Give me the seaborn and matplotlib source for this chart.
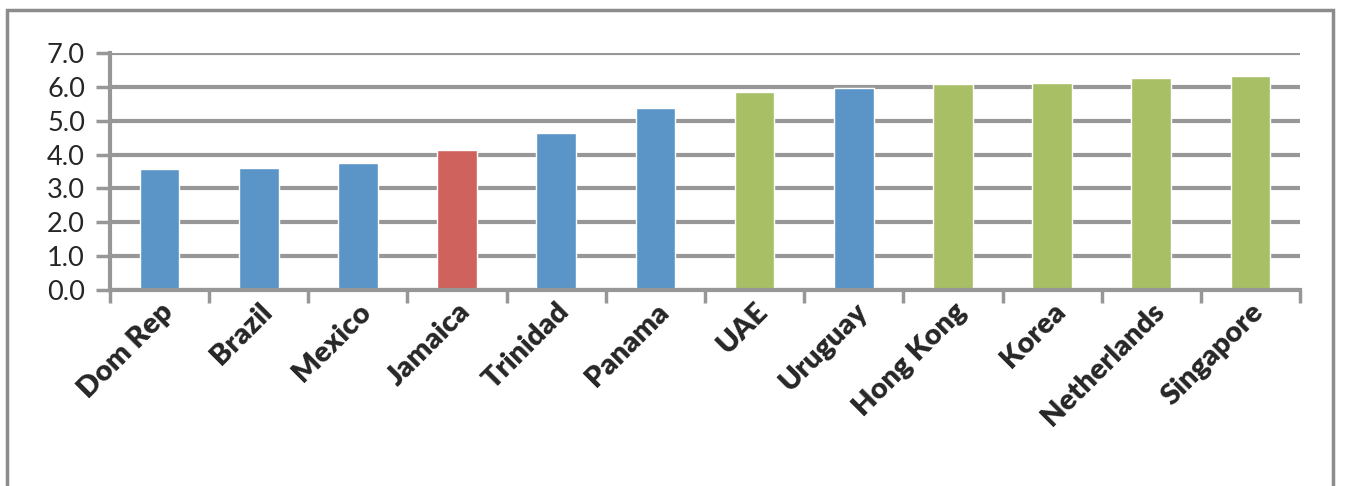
import matplotlib
matplotlib.use("Agg")
import matplotlib.pyplot as plt
from matplotlib.patches import Rectangle
from matplotlib.ticker import FixedLocator, NullFormatter
import seaborn as sns
import pandas as pd

countries = ["Dom Rep", "Brazil", "Mexico", "Jamaica", "Trinidad", "Panama",
             "UAE", "Uruguay", "Hong Kong", "Korea", "Netherlands", "Singapore"]
values = [3.57, 3.61, 3.76, 4.14, 4.63, 5.37, 5.86, 5.97, 6.08, 6.12, 6.27, 6.32]
groups = ["Region", "Region", "Region", "Jamaica", "Region", "Region",
          "Comparator", "Region", "Comparator", "Comparator", "Comparator", "Comparator"]
palette = {"Region": "#5B95C8", "Jamaica": "#CF625C", "Comparator": "#A8BF66"}
yticks = [0.0, 1.0, 2.0, 3.0, 4.0, 5.0, 6.0, 7.0]

sns.set_theme(style="white")
plt.rcParams["font.family"] = ["Lato", "DejaVu Sans"]

df = pd.DataFrame({"country": countries, "value": values, "group": groups})

fig = plt.figure(figsize=(13.45, 4.86), dpi=100)
ax = fig.add_axes([110 / 1345, 1 - 290 / 486, (1300 - 110) / 1345, (290 - 53) / 486])

sns.barplot(data=df, x="country", y="value", hue="group", palette=palette,
            dodge=False, width=0.4, legend=False, ax=ax, saturation=1)

ax.set_ylim(0, 7)
ax.set_xlim(-0.5, len(countries) - 0.5)
ax.set_yticks(yticks)
ax.set_yticklabels([f"{v:.1f}" for v in yticks], fontsize=19.5)
grid_color = "#979797"
for v in yticks:
    ax.axhline(v, color=grid_color, lw=3, zorder=0)
ax.set_axisbelow(True)

ax.set_xlabel("")
ax.set_ylabel("")
ax.set_xticks(range(len(countries)))
ax.set_xticklabels(countries, rotation=45, ha="right", rotation_mode="anchor",
                   fontsize=21, fontweight="heavy")
ax.tick_params(axis="x", which="major", length=0, pad=6)
ax.xaxis.set_minor_locator(FixedLocator([i - 0.5 for i in range(len(countries) + 1)]))
ax.xaxis.set_minor_formatter(NullFormatter())
ax.tick_params(axis="x", which="minor", length=9, width=2.5, color=grid_color,
               direction="out", bottom=True)
ax.tick_params(axis="y", which="major", length=10, width=2.5, color=grid_color,
               direction="out", left=True, pad=8)

for side in ["top", "right"]:
    ax.spines[side].set_visible(False)
for side in ["left", "bottom"]:
    ax.spines[side].set_color(grid_color)
    ax.spines[side].set_linewidth(3)

frame = Rectangle((7 / 1345, -0.1), (1333 - 7) / 1345, 1.1 - 10 / 486,
                  transform=fig.transFigure, fill=False, edgecolor="#8c8c8c",
                  lw=2.5, clip_on=False)
fig.patches.append(frame)

fig.savefig("out.png", dpi=100, facecolor="white")
